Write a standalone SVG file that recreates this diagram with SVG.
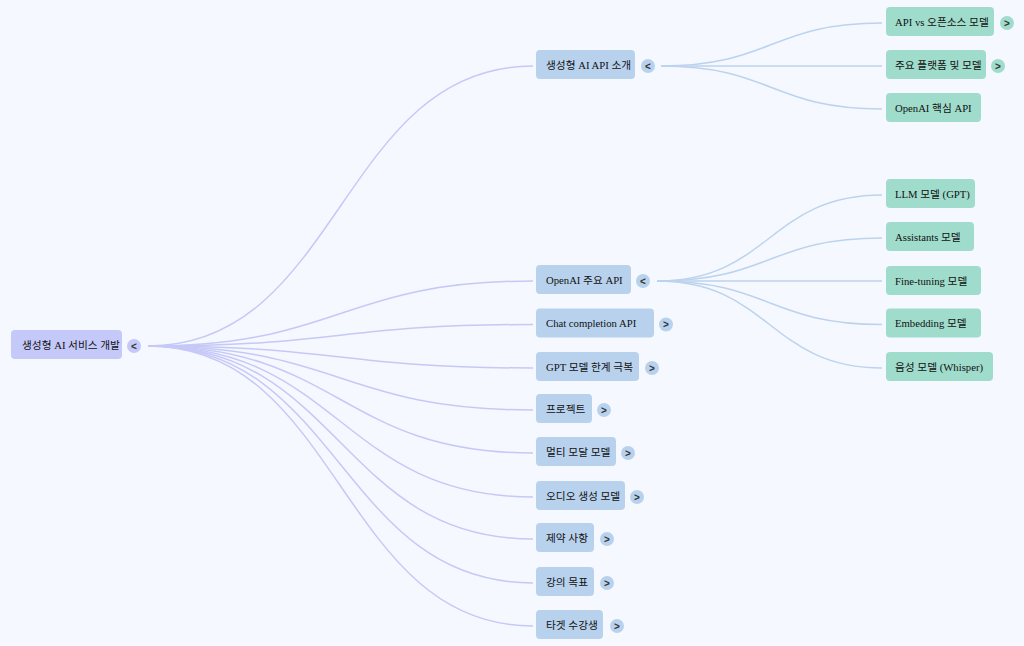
<svg xmlns="http://www.w3.org/2000/svg" width="1024" height="646" viewBox="0 0 1024 646">
<style>
.bg{fill:#f5f8fe}
.t{font-family:"Liberation Serif","Noto Sans CJK KR",serif;font-size:10.7px;fill:#111}
.root rect.b{fill:#c5c9fa}
.l1 rect.b{fill:#b8d2ee}
.l2 rect.b{fill:#a0dccb}
.root circle{fill:#c5c9fa}
.l1 circle{fill:#b8d2ee}
.l2 circle{fill:#a0dccb}
.tg{font-family:"Liberation Sans",sans-serif;font-size:10px;font-weight:bold;fill:#333;text-anchor:middle}
.e0{fill:none;stroke:#c6c9f7;stroke-width:1.5}
.e1{fill:none;stroke:#bcd3ee;stroke-width:1.5}
</style>
<rect class="bg" x="0" y="0" width="1024" height="646"/>
<g id="connectors">
<path class="e0" d="M148 346 C340.5 346 340.5 66 533 66"/>
<path class="e0" d="M148 346 C340.5 346 340.5 281 533 281"/>
<path class="e0" d="M148 346 C340.5 346 340.5 324.5 533 324.5"/>
<path class="e0" d="M148 346 C340.5 346 340.5 368 533 368"/>
<path class="e0" d="M148 346 C340.5 346 340.5 410 533 410"/>
<path class="e0" d="M148 346 C340.5 346 340.5 453 533 453"/>
<path class="e0" d="M148 346 C340.5 346 340.5 497 533 497"/>
<path class="e0" d="M148 346 C340.5 346 340.5 539 533 539"/>
<path class="e0" d="M148 346 C340.5 346 340.5 583 533 583"/>
<path class="e0" d="M148 346 C340.5 346 340.5 626 533 626"/>
<path class="e1" d="M661 66 C771.5 66 771.5 23 882 23"/>
<path class="e1" d="M661 66 C771.5 66 771.5 66 882 66"/>
<path class="e1" d="M661 66 C771.5 66 771.5 109 882 109"/>
<path class="e1" d="M657 281 C769.5 281 769.5 195 882 195"/>
<path class="e1" d="M657 281 C769.5 281 769.5 238 882 238"/>
<path class="e1" d="M657 281 C769.5 281 769.5 281 882 281"/>
<path class="e1" d="M657 281 C769.5 281 769.5 324.5 882 324.5"/>
<path class="e1" d="M657 281 C769.5 281 769.5 368 882 368"/>
</g>
<g id="root" class="root">
<rect class="b" x="11" y="330" width="111" height="29" rx="4"/>
<text class="t" x="22" y="348.5">생성형 AI 서비스 개발</text>
<circle cx="134" cy="346" r="7"/><text class="tg" x="134" y="349.5">&lt;</text>
</g>
<g id="n-api-intro" class="l1">
<rect class="b" x="536" y="50" width="99" height="29" rx="4"/>
<text class="t" x="546" y="68.5">생성형 AI API 소개</text>
<circle cx="648" cy="66" r="7"/><text class="tg" x="648" y="69.5">&lt;</text>
</g>
<g id="n-openai-api" class="l1">
<rect class="b" x="536" y="265" width="95" height="29" rx="4"/>
<text class="t" x="546" y="283.5">OpenAI 주요 API</text>
<circle cx="643" cy="281" r="7"/><text class="tg" x="643" y="284.5">&lt;</text>
</g>
<g id="n-chat" class="l1">
<rect class="b" x="536" y="308.5" width="118" height="29" rx="4"/>
<text class="t" x="546" y="327">Chat completion API</text>
<circle cx="666" cy="324.5" r="7"/><text class="tg" x="666" y="328">&gt;</text>
</g>
<g id="n-gpt" class="l1">
<rect class="b" x="536" y="352" width="103" height="29" rx="4"/>
<text class="t" x="546" y="370.5">GPT 모델 한계 극복</text>
<circle cx="652" cy="368" r="7"/><text class="tg" x="652" y="371.5">&gt;</text>
</g>
<g id="n-project" class="l1">
<rect class="b" x="536" y="394" width="56" height="29" rx="4"/>
<text class="t" x="546" y="412.5">프로젝트</text>
<circle cx="604" cy="410" r="7"/><text class="tg" x="604" y="413.5">&gt;</text>
</g>
<g id="n-multi" class="l1">
<rect class="b" x="536" y="437" width="80" height="29" rx="4"/>
<text class="t" x="546" y="455.5">멀티 모달 모델</text>
<circle cx="628" cy="453" r="7"/><text class="tg" x="628" y="456.5">&gt;</text>
</g>
<g id="n-audio" class="l1">
<rect class="b" x="536" y="481" width="89" height="29" rx="4"/>
<text class="t" x="546" y="499.5">오디오 생성 모델</text>
<circle cx="637" cy="497" r="7"/><text class="tg" x="637" y="500.5">&gt;</text>
</g>
<g id="n-limits" class="l1">
<rect class="b" x="536" y="523" width="58" height="29" rx="4"/>
<text class="t" x="546" y="541.5">제약 사항</text>
<circle cx="607" cy="539" r="7"/><text class="tg" x="607" y="542.5">&gt;</text>
</g>
<g id="n-goals" class="l1">
<rect class="b" x="536" y="567" width="58" height="29" rx="4"/>
<text class="t" x="546" y="585.5">강의 목표</text>
<circle cx="607" cy="583" r="7"/><text class="tg" x="607" y="586.5">&gt;</text>
</g>
<g id="n-target" class="l1">
<rect class="b" x="536" y="610" width="67" height="29" rx="4"/>
<text class="t" x="546" y="628.5">타겟 수강생</text>
<circle cx="617" cy="626" r="7"/><text class="tg" x="617" y="629.5">&gt;</text>
</g>
<g id="n-api-vs" class="l2">
<rect class="b" x="886" y="7" width="108" height="29" rx="4"/>
<text class="t" x="895" y="25.5">API vs 오픈소스 모델</text>
<circle cx="1007" cy="23" r="7"/><text class="tg" x="1007" y="26.5">&gt;</text>
</g>
<g id="n-platforms" class="l2">
<rect class="b" x="886" y="50" width="100" height="29" rx="4"/>
<text class="t" x="895" y="68.5">주요 플랫폼 및 모델</text>
<circle cx="998" cy="66" r="7"/><text class="tg" x="998" y="69.5">&gt;</text>
</g>
<g id="n-openai-core" class="l2">
<rect class="b" x="886" y="93" width="95" height="29" rx="4"/>
<text class="t" x="895" y="111.5">OpenAI 핵심 API</text>
</g>
<g id="n-llm" class="l2">
<rect class="b" x="886" y="179" width="89" height="29" rx="4"/>
<text class="t" x="895" y="197.5">LLM 모델 (GPT)</text>
</g>
<g id="n-assistants" class="l2">
<rect class="b" x="886" y="222" width="88" height="29" rx="4"/>
<text class="t" x="895" y="240.5">Assistants 모델</text>
</g>
<g id="n-finetune" class="l2">
<rect class="b" x="886" y="266" width="95" height="29" rx="4"/>
<text class="t" x="895" y="284.5">Fine-tuning 모델</text>
</g>
<g id="n-embedding" class="l2">
<rect class="b" x="886" y="308.5" width="95" height="29" rx="4"/>
<text class="t" x="895" y="327">Embedding 모델</text>
</g>
<g id="n-whisper" class="l2">
<rect class="b" x="886" y="352" width="107" height="29" rx="4"/>
<text class="t" x="895" y="370.5">음성 모델 (Whisper)</text>
</g>
</svg>
